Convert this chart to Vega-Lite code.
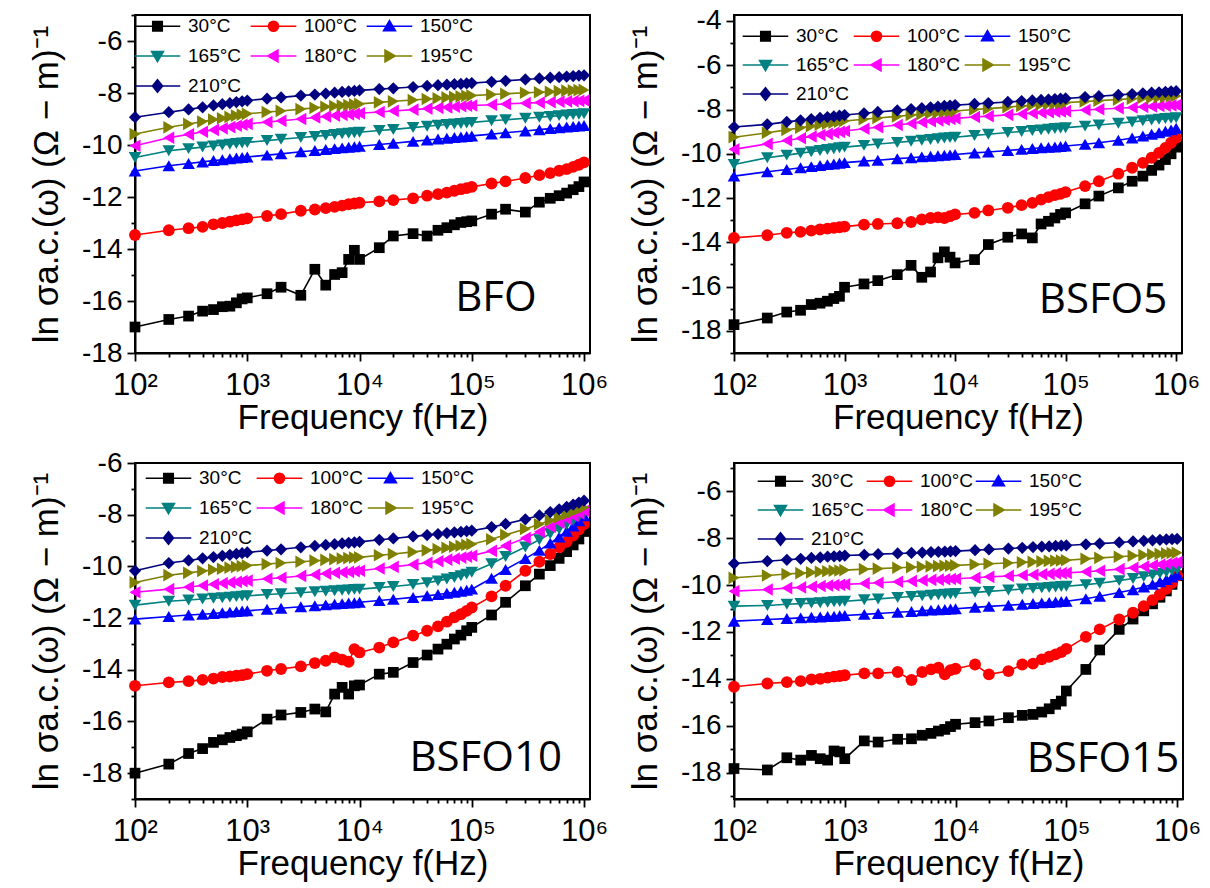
{
"$schema":"https://vega.github.io/schema/vega-lite/v6.json",
"background":"white",
"padding":{"left":28,"top":0,"right":5,"bottom":5},
"bounds":"flush",
"columns":2,
"spacing":{"row":110,"column":144},
"resolve":{"scale":{"x":"independent","y":"independent","color":"independent","shape":"independent"},"axis":{"x":"independent","y":"independent"},"legend":{"color":"independent","shape":"independent"}},
"config":{
"font":"Liberation Sans",
"view":{"stroke":"black","strokeWidth":2},
"axis":{"domainColor":"black","domainWidth":2,"tickColor":"black","tickWidth":1.8,"labelColor":"black","titleColor":"black","labelFont":"Liberation Sans","titleFont":"Liberation Sans","titleFontSize":35,"titleFontWeight":"normal","grid":false,"labelFlush":false,"labelOverlap":false,"labelBound":false},
"legend":{"symbolStrokeWidth":1.5,"symbolOpacity":1,"symbolSize":144,"labelOffset":21,"padding":0,"labelFont":"Liberation Sans","labelFontSize":19,"labelColor":"black"}
},
"datasets":{
"bfo":[
{"t":30,"f":100,"v":-17},{"t":30,"f":200,"v":-16.71},{"t":30,"f":300,"v":-16.58},{"t":30,"f":400,"v":-16.39},{"t":30,"f":500,"v":-16.33},{"t":30,"f":600,"v":-16.22},{"t":30,"f":700,"v":-16.2},{"t":30,"f":800,"v":-16.07},{"t":30,"f":900,"v":-15.92},{"t":30,"f":1000,"v":-15.88},{"t":30,"f":1500,"v":-15.72},{"t":30,"f":2000,"v":-15.47},{"t":30,"f":3000,"v":-15.78},{"t":30,"f":4000,"v":-14.78},{"t":30,"f":5000,"v":-15.39},{"t":30,"f":6000,"v":-14.98},{"t":30,"f":7000,"v":-14.91},{"t":30,"f":8000,"v":-14.4},{"t":30,"f":9000,"v":-14.05},{"t":30,"f":10000,"v":-14.4},{"t":30,"f":15000,"v":-13.95},{"t":30,"f":20000,"v":-13.5},{"t":30,"f":30000,"v":-13.41},{"t":30,"f":40000,"v":-13.5},{"t":30,"f":50000,"v":-13.28},{"t":30,"f":60000,"v":-13.18},{"t":30,"f":70000,"v":-13.07},{"t":30,"f":80000,"v":-12.98},{"t":30,"f":90000,"v":-12.95},{"t":30,"f":100000,"v":-12.92},{"t":30,"f":150000,"v":-12.66},{"t":30,"f":200000,"v":-12.47},{"t":30,"f":300000,"v":-12.58},{"t":30,"f":400000,"v":-12.2},{"t":30,"f":500000,"v":-12.05},{"t":30,"f":600000,"v":-11.95},{"t":30,"f":700000,"v":-11.85},{"t":30,"f":800000,"v":-11.72},{"t":30,"f":900000,"v":-11.6},{"t":30,"f":1000000,"v":-11.42},
{"t":100,"f":100,"v":-13.46},{"t":100,"f":200,"v":-13.28},{"t":100,"f":300,"v":-13.2},{"t":100,"f":400,"v":-13.15},{"t":100,"f":500,"v":-13.05},{"t":100,"f":600,"v":-13},{"t":100,"f":700,"v":-12.95},{"t":100,"f":800,"v":-12.9},{"t":100,"f":900,"v":-12.86},{"t":100,"f":1000,"v":-12.82},{"t":100,"f":1500,"v":-12.73},{"t":100,"f":2000,"v":-12.66},{"t":100,"f":3000,"v":-12.53},{"t":100,"f":4000,"v":-12.48},{"t":100,"f":5000,"v":-12.43},{"t":100,"f":6000,"v":-12.38},{"t":100,"f":7000,"v":-12.33},{"t":100,"f":8000,"v":-12.28},{"t":100,"f":9000,"v":-12.25},{"t":100,"f":10000,"v":-12.22},{"t":100,"f":15000,"v":-12.17},{"t":100,"f":20000,"v":-12.12},{"t":100,"f":30000,"v":-12.05},{"t":100,"f":40000,"v":-11.95},{"t":100,"f":50000,"v":-11.89},{"t":100,"f":60000,"v":-11.83},{"t":100,"f":70000,"v":-11.76},{"t":100,"f":80000,"v":-11.7},{"t":100,"f":90000,"v":-11.66},{"t":100,"f":100000,"v":-11.61},{"t":100,"f":150000,"v":-11.48},{"t":100,"f":200000,"v":-11.4},{"t":100,"f":300000,"v":-11.27},{"t":100,"f":400000,"v":-11.16},{"t":100,"f":500000,"v":-11.08},{"t":100,"f":600000,"v":-10.99},{"t":100,"f":700000,"v":-10.93},{"t":100,"f":800000,"v":-10.84},{"t":100,"f":900000,"v":-10.76},{"t":100,"f":1000000,"v":-10.67},
{"t":150,"f":100,"v":-11},{"t":150,"f":200,"v":-10.8},{"t":150,"f":300,"v":-10.71},{"t":150,"f":400,"v":-10.65},{"t":150,"f":500,"v":-10.6},{"t":150,"f":600,"v":-10.57},{"t":150,"f":700,"v":-10.53},{"t":150,"f":800,"v":-10.5},{"t":150,"f":900,"v":-10.48},{"t":150,"f":1000,"v":-10.46},{"t":150,"f":1500,"v":-10.39},{"t":150,"f":2000,"v":-10.34},{"t":150,"f":3000,"v":-10.26},{"t":150,"f":4000,"v":-10.21},{"t":150,"f":5000,"v":-10.17},{"t":150,"f":6000,"v":-10.14},{"t":150,"f":7000,"v":-10.11},{"t":150,"f":8000,"v":-10.09},{"t":150,"f":9000,"v":-10.07},{"t":150,"f":10000,"v":-10.05},{"t":150,"f":15000,"v":-9.98},{"t":150,"f":20000,"v":-9.93},{"t":150,"f":30000,"v":-9.86},{"t":150,"f":40000,"v":-9.81},{"t":150,"f":50000,"v":-9.77},{"t":150,"f":60000,"v":-9.74},{"t":150,"f":70000,"v":-9.71},{"t":150,"f":80000,"v":-9.69},{"t":150,"f":90000,"v":-9.67},{"t":150,"f":100000,"v":-9.65},{"t":150,"f":150000,"v":-9.58},{"t":150,"f":200000,"v":-9.53},{"t":150,"f":300000,"v":-9.46},{"t":150,"f":400000,"v":-9.41},{"t":150,"f":500000,"v":-9.37},{"t":150,"f":600000,"v":-9.34},{"t":150,"f":700000,"v":-9.31},{"t":150,"f":800000,"v":-9.29},{"t":150,"f":900000,"v":-9.27},{"t":150,"f":1000000,"v":-9.25},
{"t":165,"f":100,"v":-10.48},{"t":165,"f":200,"v":-10.22},{"t":165,"f":300,"v":-10.14},{"t":165,"f":400,"v":-10.08},{"t":165,"f":500,"v":-10.04},{"t":165,"f":600,"v":-10},{"t":165,"f":700,"v":-9.97},{"t":165,"f":800,"v":-9.94},{"t":165,"f":900,"v":-9.92},{"t":165,"f":1000,"v":-9.9},{"t":165,"f":1500,"v":-9.83},{"t":165,"f":2000,"v":-9.78},{"t":165,"f":3000,"v":-9.71},{"t":165,"f":4000,"v":-9.67},{"t":165,"f":5000,"v":-9.63},{"t":165,"f":6000,"v":-9.6},{"t":165,"f":7000,"v":-9.57},{"t":165,"f":8000,"v":-9.55},{"t":165,"f":9000,"v":-9.53},{"t":165,"f":10000,"v":-9.51},{"t":165,"f":15000,"v":-9.44},{"t":165,"f":20000,"v":-9.4},{"t":165,"f":30000,"v":-9.33},{"t":165,"f":40000,"v":-9.28},{"t":165,"f":50000,"v":-9.24},{"t":165,"f":60000,"v":-9.21},{"t":165,"f":70000,"v":-9.19},{"t":165,"f":80000,"v":-9.17},{"t":165,"f":90000,"v":-9.15},{"t":165,"f":100000,"v":-9.13},{"t":165,"f":150000,"v":-9.07},{"t":165,"f":200000,"v":-9.03},{"t":165,"f":300000,"v":-8.97},{"t":165,"f":400000,"v":-8.93},{"t":165,"f":500000,"v":-8.9},{"t":165,"f":600000,"v":-8.87},{"t":165,"f":700000,"v":-8.85},{"t":165,"f":800000,"v":-8.83},{"t":165,"f":900000,"v":-8.82},{"t":165,"f":1000000,"v":-8.8},
{"t":180,"f":100,"v":-10.03},{"t":180,"f":200,"v":-9.72},{"t":180,"f":300,"v":-9.59},{"t":180,"f":400,"v":-9.49},{"t":180,"f":500,"v":-9.42},{"t":180,"f":600,"v":-9.36},{"t":180,"f":700,"v":-9.31},{"t":180,"f":800,"v":-9.26},{"t":180,"f":900,"v":-9.22},{"t":180,"f":1000,"v":-9.19},{"t":180,"f":1500,"v":-9.12},{"t":180,"f":2000,"v":-9.07},{"t":180,"f":3000,"v":-9},{"t":180,"f":4000,"v":-8.94},{"t":180,"f":5000,"v":-8.9},{"t":180,"f":6000,"v":-8.87},{"t":180,"f":7000,"v":-8.84},{"t":180,"f":8000,"v":-8.82},{"t":180,"f":9000,"v":-8.8},{"t":180,"f":10000,"v":-8.78},{"t":180,"f":15000,"v":-8.73},{"t":180,"f":20000,"v":-8.69},{"t":180,"f":30000,"v":-8.64},{"t":180,"f":40000,"v":-8.6},{"t":180,"f":50000,"v":-8.57},{"t":180,"f":60000,"v":-8.55},{"t":180,"f":70000,"v":-8.53},{"t":180,"f":80000,"v":-8.51},{"t":180,"f":90000,"v":-8.49},{"t":180,"f":100000,"v":-8.48},{"t":180,"f":150000,"v":-8.45},{"t":180,"f":200000,"v":-8.42},{"t":180,"f":300000,"v":-8.39},{"t":180,"f":400000,"v":-8.37},{"t":180,"f":500000,"v":-8.35},{"t":180,"f":600000,"v":-8.33},{"t":180,"f":700000,"v":-8.32},{"t":180,"f":800000,"v":-8.31},{"t":180,"f":900000,"v":-8.3},{"t":180,"f":1000000,"v":-8.29},
{"t":195,"f":100,"v":-9.58},{"t":195,"f":200,"v":-9.32},{"t":195,"f":300,"v":-9.19},{"t":195,"f":400,"v":-9.1},{"t":195,"f":500,"v":-9.02},{"t":195,"f":600,"v":-8.97},{"t":195,"f":700,"v":-8.92},{"t":195,"f":800,"v":-8.87},{"t":195,"f":900,"v":-8.83},{"t":195,"f":1000,"v":-8.8},{"t":195,"f":1500,"v":-8.73},{"t":195,"f":2000,"v":-8.69},{"t":195,"f":3000,"v":-8.62},{"t":195,"f":4000,"v":-8.57},{"t":195,"f":5000,"v":-8.53},{"t":195,"f":6000,"v":-8.5},{"t":195,"f":7000,"v":-8.48},{"t":195,"f":8000,"v":-8.46},{"t":195,"f":9000,"v":-8.44},{"t":195,"f":10000,"v":-8.42},{"t":195,"f":15000,"v":-8.36},{"t":195,"f":20000,"v":-8.32},{"t":195,"f":30000,"v":-8.27},{"t":195,"f":40000,"v":-8.23},{"t":195,"f":50000,"v":-8.2},{"t":195,"f":60000,"v":-8.17},{"t":195,"f":70000,"v":-8.15},{"t":195,"f":80000,"v":-8.13},{"t":195,"f":90000,"v":-8.11},{"t":195,"f":100000,"v":-8.1},{"t":195,"f":150000,"v":-8.06},{"t":195,"f":200000,"v":-8.03},{"t":195,"f":300000,"v":-7.99},{"t":195,"f":400000,"v":-7.97},{"t":195,"f":500000,"v":-7.95},{"t":195,"f":600000,"v":-7.93},{"t":195,"f":700000,"v":-7.91},{"t":195,"f":800000,"v":-7.9},{"t":195,"f":900000,"v":-7.89},{"t":195,"f":1000000,"v":-7.88},
{"t":210,"f":100,"v":-8.93},{"t":210,"f":200,"v":-8.74},{"t":210,"f":300,"v":-8.63},{"t":210,"f":400,"v":-8.55},{"t":210,"f":500,"v":-8.48},{"t":210,"f":600,"v":-8.43},{"t":210,"f":700,"v":-8.39},{"t":210,"f":800,"v":-8.35},{"t":210,"f":900,"v":-8.32},{"t":210,"f":1000,"v":-8.29},{"t":210,"f":1500,"v":-8.22},{"t":210,"f":2000,"v":-8.17},{"t":210,"f":3000,"v":-8.1},{"t":210,"f":4000,"v":-8.06},{"t":210,"f":5000,"v":-8.02},{"t":210,"f":6000,"v":-7.99},{"t":210,"f":7000,"v":-7.96},{"t":210,"f":8000,"v":-7.94},{"t":210,"f":9000,"v":-7.92},{"t":210,"f":10000,"v":-7.9},{"t":210,"f":15000,"v":-7.85},{"t":210,"f":20000,"v":-7.82},{"t":210,"f":30000,"v":-7.77},{"t":210,"f":40000,"v":-7.73},{"t":210,"f":50000,"v":-7.7},{"t":210,"f":60000,"v":-7.68},{"t":210,"f":70000,"v":-7.66},{"t":210,"f":80000,"v":-7.65},{"t":210,"f":90000,"v":-7.63},{"t":210,"f":100000,"v":-7.62},{"t":210,"f":150000,"v":-7.57},{"t":210,"f":200000,"v":-7.53},{"t":210,"f":300000,"v":-7.48},{"t":210,"f":400000,"v":-7.44},{"t":210,"f":500000,"v":-7.41},{"t":210,"f":600000,"v":-7.39},{"t":210,"f":700000,"v":-7.37},{"t":210,"f":800000,"v":-7.35},{"t":210,"f":900000,"v":-7.33},{"t":210,"f":1000000,"v":-7.32}
],
"b5":[
{"t":30,"f":100,"v":-17.72},{"t":30,"f":200,"v":-17.42},{"t":30,"f":300,"v":-17.15},{"t":30,"f":400,"v":-17.07},{"t":30,"f":500,"v":-16.81},{"t":30,"f":600,"v":-16.75},{"t":30,"f":700,"v":-16.66},{"t":30,"f":800,"v":-16.54},{"t":30,"f":900,"v":-16.44},{"t":30,"f":1000,"v":-16.03},{"t":30,"f":1500,"v":-15.88},{"t":30,"f":2000,"v":-15.73},{"t":30,"f":3000,"v":-15.46},{"t":30,"f":4000,"v":-15.04},{"t":30,"f":5000,"v":-15.58},{"t":30,"f":6000,"v":-15.34},{"t":30,"f":7000,"v":-14.7},{"t":30,"f":8000,"v":-14.43},{"t":30,"f":9000,"v":-14.67},{"t":30,"f":10000,"v":-14.93},{"t":30,"f":15000,"v":-14.78},{"t":30,"f":20000,"v":-14.1},{"t":30,"f":30000,"v":-13.77},{"t":30,"f":40000,"v":-13.62},{"t":30,"f":50000,"v":-13.8},{"t":30,"f":60000,"v":-13.17},{"t":30,"f":70000,"v":-13.05},{"t":30,"f":80000,"v":-12.9},{"t":30,"f":90000,"v":-12.74},{"t":30,"f":100000,"v":-12.67},{"t":30,"f":150000,"v":-12.26},{"t":30,"f":200000,"v":-11.91},{"t":30,"f":300000,"v":-11.54},{"t":30,"f":400000,"v":-11.24},{"t":30,"f":500000,"v":-11.01},{"t":30,"f":600000,"v":-10.75},{"t":30,"f":700000,"v":-10.51},{"t":30,"f":800000,"v":-10.26},{"t":30,"f":900000,"v":-10},{"t":30,"f":1000000,"v":-9.7},
{"t":100,"f":100,"v":-13.8},{"t":100,"f":200,"v":-13.68},{"t":100,"f":300,"v":-13.57},{"t":100,"f":400,"v":-13.53},{"t":100,"f":500,"v":-13.47},{"t":100,"f":600,"v":-13.42},{"t":100,"f":700,"v":-13.38},{"t":100,"f":800,"v":-13.35},{"t":100,"f":900,"v":-13.32},{"t":100,"f":1000,"v":-13.29},{"t":100,"f":1500,"v":-13.2},{"t":100,"f":2000,"v":-13.17},{"t":100,"f":3000,"v":-13.14},{"t":100,"f":4000,"v":-13.08},{"t":100,"f":5000,"v":-12.97},{"t":100,"f":6000,"v":-12.9},{"t":100,"f":7000,"v":-12.87},{"t":100,"f":8000,"v":-12.9},{"t":100,"f":9000,"v":-12.82},{"t":100,"f":10000,"v":-12.74},{"t":100,"f":15000,"v":-12.67},{"t":100,"f":20000,"v":-12.56},{"t":100,"f":30000,"v":-12.44},{"t":100,"f":40000,"v":-12.32},{"t":100,"f":50000,"v":-12.22},{"t":100,"f":60000,"v":-12.07},{"t":100,"f":70000,"v":-11.96},{"t":100,"f":80000,"v":-11.87},{"t":100,"f":90000,"v":-11.81},{"t":100,"f":100000,"v":-11.73},{"t":100,"f":150000,"v":-11.46},{"t":100,"f":200000,"v":-11.24},{"t":100,"f":300000,"v":-10.9},{"t":100,"f":400000,"v":-10.63},{"t":100,"f":500000,"v":-10.41},{"t":100,"f":600000,"v":-10.18},{"t":100,"f":700000,"v":-9.96},{"t":100,"f":800000,"v":-9.73},{"t":100,"f":900000,"v":-9.5},{"t":100,"f":1000000,"v":-9.28},
{"t":150,"f":100,"v":-11.01},{"t":150,"f":200,"v":-10.81},{"t":150,"f":300,"v":-10.71},{"t":150,"f":400,"v":-10.63},{"t":150,"f":500,"v":-10.58},{"t":150,"f":600,"v":-10.53},{"t":150,"f":700,"v":-10.49},{"t":150,"f":800,"v":-10.46},{"t":150,"f":900,"v":-10.43},{"t":150,"f":1000,"v":-10.4},{"t":150,"f":1500,"v":-10.33},{"t":150,"f":2000,"v":-10.29},{"t":150,"f":3000,"v":-10.22},{"t":150,"f":4000,"v":-10.18},{"t":150,"f":5000,"v":-10.14},{"t":150,"f":6000,"v":-10.11},{"t":150,"f":7000,"v":-10.09},{"t":150,"f":8000,"v":-10.07},{"t":150,"f":9000,"v":-10.05},{"t":150,"f":10000,"v":-10.03},{"t":150,"f":15000,"v":-9.96},{"t":150,"f":20000,"v":-9.92},{"t":150,"f":30000,"v":-9.85},{"t":150,"f":40000,"v":-9.8},{"t":150,"f":50000,"v":-9.76},{"t":150,"f":60000,"v":-9.73},{"t":150,"f":70000,"v":-9.71},{"t":150,"f":80000,"v":-9.69},{"t":150,"f":90000,"v":-9.67},{"t":150,"f":100000,"v":-9.65},{"t":150,"f":150000,"v":-9.57},{"t":150,"f":200000,"v":-9.5},{"t":150,"f":300000,"v":-9.39},{"t":150,"f":400000,"v":-9.29},{"t":150,"f":500000,"v":-9.2},{"t":150,"f":600000,"v":-9.12},{"t":150,"f":700000,"v":-9.05},{"t":150,"f":800000,"v":-8.98},{"t":150,"f":900000,"v":-8.92},{"t":150,"f":1000000,"v":-8.85},
{"t":165,"f":100,"v":-10.48},{"t":165,"f":200,"v":-10.18},{"t":165,"f":300,"v":-10.06},{"t":165,"f":400,"v":-9.97},{"t":165,"f":500,"v":-9.91},{"t":165,"f":600,"v":-9.85},{"t":165,"f":700,"v":-9.81},{"t":165,"f":800,"v":-9.77},{"t":165,"f":900,"v":-9.73},{"t":165,"f":1000,"v":-9.7},{"t":165,"f":1500,"v":-9.62},{"t":165,"f":2000,"v":-9.56},{"t":165,"f":3000,"v":-9.49},{"t":165,"f":4000,"v":-9.43},{"t":165,"f":5000,"v":-9.39},{"t":165,"f":6000,"v":-9.35},{"t":165,"f":7000,"v":-9.32},{"t":165,"f":8000,"v":-9.29},{"t":165,"f":9000,"v":-9.27},{"t":165,"f":10000,"v":-9.25},{"t":165,"f":15000,"v":-9.17},{"t":165,"f":20000,"v":-9.12},{"t":165,"f":30000,"v":-9.04},{"t":165,"f":40000,"v":-8.99},{"t":165,"f":50000,"v":-8.95},{"t":165,"f":60000,"v":-8.92},{"t":165,"f":70000,"v":-8.89},{"t":165,"f":80000,"v":-8.86},{"t":165,"f":90000,"v":-8.84},{"t":165,"f":100000,"v":-8.82},{"t":165,"f":150000,"v":-8.75},{"t":165,"f":200000,"v":-8.7},{"t":165,"f":300000,"v":-8.62},{"t":165,"f":400000,"v":-8.56},{"t":165,"f":500000,"v":-8.51},{"t":165,"f":600000,"v":-8.47},{"t":165,"f":700000,"v":-8.44},{"t":165,"f":800000,"v":-8.41},{"t":165,"f":900000,"v":-8.39},{"t":165,"f":1000000,"v":-8.37},
{"t":180,"f":100,"v":-9.8},{"t":180,"f":200,"v":-9.55},{"t":180,"f":300,"v":-9.4},{"t":180,"f":400,"v":-9.3},{"t":180,"f":500,"v":-9.22},{"t":180,"f":600,"v":-9.15},{"t":180,"f":700,"v":-9.1},{"t":180,"f":800,"v":-9.05},{"t":180,"f":900,"v":-9.01},{"t":180,"f":1000,"v":-8.97},{"t":180,"f":1500,"v":-8.87},{"t":180,"f":2000,"v":-8.8},{"t":180,"f":3000,"v":-8.7},{"t":180,"f":4000,"v":-8.63},{"t":180,"f":5000,"v":-8.57},{"t":180,"f":6000,"v":-8.53},{"t":180,"f":7000,"v":-8.49},{"t":180,"f":8000,"v":-8.46},{"t":180,"f":9000,"v":-8.43},{"t":180,"f":10000,"v":-8.4},{"t":180,"f":15000,"v":-8.34},{"t":180,"f":20000,"v":-8.3},{"t":180,"f":30000,"v":-8.24},{"t":180,"f":40000,"v":-8.2},{"t":180,"f":50000,"v":-8.17},{"t":180,"f":60000,"v":-8.14},{"t":180,"f":70000,"v":-8.12},{"t":180,"f":80000,"v":-8.1},{"t":180,"f":90000,"v":-8.09},{"t":180,"f":100000,"v":-8.07},{"t":180,"f":150000,"v":-8.02},{"t":180,"f":200000,"v":-7.99},{"t":180,"f":300000,"v":-7.94},{"t":180,"f":400000,"v":-7.91},{"t":180,"f":500000,"v":-7.88},{"t":180,"f":600000,"v":-7.86},{"t":180,"f":700000,"v":-7.84},{"t":180,"f":800000,"v":-7.83},{"t":180,"f":900000,"v":-7.81},{"t":180,"f":1000000,"v":-7.8},
{"t":195,"f":100,"v":-9.25},{"t":195,"f":200,"v":-9.05},{"t":195,"f":300,"v":-8.92},{"t":195,"f":400,"v":-8.82},{"t":195,"f":500,"v":-8.75},{"t":195,"f":600,"v":-8.69},{"t":195,"f":700,"v":-8.64},{"t":195,"f":800,"v":-8.59},{"t":195,"f":900,"v":-8.55},{"t":195,"f":1000,"v":-8.52},{"t":195,"f":1500,"v":-8.44},{"t":195,"f":2000,"v":-8.38},{"t":195,"f":3000,"v":-8.31},{"t":195,"f":4000,"v":-8.25},{"t":195,"f":5000,"v":-8.21},{"t":195,"f":6000,"v":-8.17},{"t":195,"f":7000,"v":-8.14},{"t":195,"f":8000,"v":-8.11},{"t":195,"f":9000,"v":-8.09},{"t":195,"f":10000,"v":-8.07},{"t":195,"f":15000,"v":-8},{"t":195,"f":20000,"v":-7.96},{"t":195,"f":30000,"v":-7.89},{"t":195,"f":40000,"v":-7.84},{"t":195,"f":50000,"v":-7.8},{"t":195,"f":60000,"v":-7.77},{"t":195,"f":70000,"v":-7.75},{"t":195,"f":80000,"v":-7.73},{"t":195,"f":90000,"v":-7.71},{"t":195,"f":100000,"v":-7.69},{"t":195,"f":150000,"v":-7.64},{"t":195,"f":200000,"v":-7.6},{"t":195,"f":300000,"v":-7.55},{"t":195,"f":400000,"v":-7.51},{"t":195,"f":500000,"v":-7.48},{"t":195,"f":600000,"v":-7.46},{"t":195,"f":700000,"v":-7.44},{"t":195,"f":800000,"v":-7.42},{"t":195,"f":900000,"v":-7.4},{"t":195,"f":1000000,"v":-7.39},
{"t":210,"f":100,"v":-8.79},{"t":210,"f":200,"v":-8.67},{"t":210,"f":300,"v":-8.56},{"t":210,"f":400,"v":-8.49},{"t":210,"f":500,"v":-8.43},{"t":210,"f":600,"v":-8.38},{"t":210,"f":700,"v":-8.34},{"t":210,"f":800,"v":-8.31},{"t":210,"f":900,"v":-8.28},{"t":210,"f":1000,"v":-8.25},{"t":210,"f":1500,"v":-8.17},{"t":210,"f":2000,"v":-8.11},{"t":210,"f":3000,"v":-8.04},{"t":210,"f":4000,"v":-7.98},{"t":210,"f":5000,"v":-7.94},{"t":210,"f":6000,"v":-7.9},{"t":210,"f":7000,"v":-7.87},{"t":210,"f":8000,"v":-7.84},{"t":210,"f":9000,"v":-7.82},{"t":210,"f":10000,"v":-7.8},{"t":210,"f":15000,"v":-7.75},{"t":210,"f":20000,"v":-7.71},{"t":210,"f":30000,"v":-7.66},{"t":210,"f":40000,"v":-7.62},{"t":210,"f":50000,"v":-7.59},{"t":210,"f":60000,"v":-7.57},{"t":210,"f":70000,"v":-7.55},{"t":210,"f":80000,"v":-7.53},{"t":210,"f":90000,"v":-7.51},{"t":210,"f":100000,"v":-7.5},{"t":210,"f":150000,"v":-7.44},{"t":210,"f":200000,"v":-7.4},{"t":210,"f":300000,"v":-7.34},{"t":210,"f":400000,"v":-7.3},{"t":210,"f":500000,"v":-7.27},{"t":210,"f":600000,"v":-7.24},{"t":210,"f":700000,"v":-7.22},{"t":210,"f":800000,"v":-7.2},{"t":210,"f":900000,"v":-7.18},{"t":210,"f":1000000,"v":-7.17}
],
"b10":[
{"t":30,"f":100,"v":-18},{"t":30,"f":200,"v":-17.65},{"t":30,"f":300,"v":-17.24},{"t":30,"f":400,"v":-17.05},{"t":30,"f":500,"v":-16.81},{"t":30,"f":600,"v":-16.71},{"t":30,"f":700,"v":-16.62},{"t":30,"f":800,"v":-16.55},{"t":30,"f":900,"v":-16.49},{"t":30,"f":1000,"v":-16.4},{"t":30,"f":1500,"v":-15.91},{"t":30,"f":2000,"v":-15.75},{"t":30,"f":3000,"v":-15.65},{"t":30,"f":4000,"v":-15.52},{"t":30,"f":5000,"v":-15.63},{"t":30,"f":6000,"v":-14.94},{"t":30,"f":7000,"v":-14.68},{"t":30,"f":8000,"v":-14.94},{"t":30,"f":9000,"v":-14.62},{"t":30,"f":10000,"v":-14.59},{"t":30,"f":15000,"v":-14.17},{"t":30,"f":20000,"v":-14.1},{"t":30,"f":30000,"v":-13.72},{"t":30,"f":40000,"v":-13.43},{"t":30,"f":50000,"v":-13.2},{"t":30,"f":60000,"v":-13.01},{"t":30,"f":70000,"v":-12.81},{"t":30,"f":80000,"v":-12.66},{"t":30,"f":90000,"v":-12.49},{"t":30,"f":100000,"v":-12.36},{"t":30,"f":150000,"v":-11.88},{"t":30,"f":200000,"v":-11.39},{"t":30,"f":300000,"v":-10.75},{"t":30,"f":400000,"v":-10.3},{"t":30,"f":500000,"v":-9.97},{"t":30,"f":600000,"v":-9.69},{"t":30,"f":700000,"v":-9.43},{"t":30,"f":800000,"v":-9.17},{"t":30,"f":900000,"v":-8.94},{"t":30,"f":1000000,"v":-8.65},
{"t":100,"f":100,"v":-14.62},{"t":100,"f":200,"v":-14.49},{"t":100,"f":300,"v":-14.44},{"t":100,"f":400,"v":-14.39},{"t":100,"f":500,"v":-14.34},{"t":100,"f":600,"v":-14.28},{"t":100,"f":700,"v":-14.26},{"t":100,"f":800,"v":-14.23},{"t":100,"f":900,"v":-14.21},{"t":100,"f":1000,"v":-14.17},{"t":100,"f":1500,"v":-14.04},{"t":100,"f":2000,"v":-13.97},{"t":100,"f":3000,"v":-13.87},{"t":100,"f":4000,"v":-13.74},{"t":100,"f":5000,"v":-13.65},{"t":100,"f":6000,"v":-13.52},{"t":100,"f":7000,"v":-13.61},{"t":100,"f":8000,"v":-13.69},{"t":100,"f":9000,"v":-13.2},{"t":100,"f":10000,"v":-13.33},{"t":100,"f":15000,"v":-13.14},{"t":100,"f":20000,"v":-12.94},{"t":100,"f":30000,"v":-12.68},{"t":100,"f":40000,"v":-12.49},{"t":100,"f":50000,"v":-12.32},{"t":100,"f":60000,"v":-12.14},{"t":100,"f":70000,"v":-11.97},{"t":100,"f":80000,"v":-11.85},{"t":100,"f":90000,"v":-11.72},{"t":100,"f":100000,"v":-11.59},{"t":100,"f":150000,"v":-11.16},{"t":100,"f":200000,"v":-10.75},{"t":100,"f":300000,"v":-10.17},{"t":100,"f":400000,"v":-9.82},{"t":100,"f":500000,"v":-9.52},{"t":100,"f":600000,"v":-9.26},{"t":100,"f":700000,"v":-9.05},{"t":100,"f":800000,"v":-8.81},{"t":100,"f":900000,"v":-8.58},{"t":100,"f":1000000,"v":-8.36},
{"t":150,"f":100,"v":-12.04},{"t":150,"f":200,"v":-11.94},{"t":150,"f":300,"v":-11.88},{"t":150,"f":400,"v":-11.85},{"t":150,"f":500,"v":-11.82},{"t":150,"f":600,"v":-11.79},{"t":150,"f":700,"v":-11.77},{"t":150,"f":800,"v":-11.75},{"t":150,"f":900,"v":-11.73},{"t":150,"f":1000,"v":-11.72},{"t":150,"f":1500,"v":-11.66},{"t":150,"f":2000,"v":-11.62},{"t":150,"f":3000,"v":-11.56},{"t":150,"f":4000,"v":-11.52},{"t":150,"f":5000,"v":-11.49},{"t":150,"f":6000,"v":-11.46},{"t":150,"f":7000,"v":-11.44},{"t":150,"f":8000,"v":-11.42},{"t":150,"f":9000,"v":-11.41},{"t":150,"f":10000,"v":-11.39},{"t":150,"f":15000,"v":-11.32},{"t":150,"f":20000,"v":-11.27},{"t":150,"f":30000,"v":-11.2},{"t":150,"f":40000,"v":-11.14},{"t":150,"f":50000,"v":-11.09},{"t":150,"f":60000,"v":-11.04},{"t":150,"f":70000,"v":-11},{"t":150,"f":80000,"v":-10.96},{"t":150,"f":90000,"v":-10.92},{"t":150,"f":100000,"v":-10.88},{"t":150,"f":150000,"v":-10.46},{"t":150,"f":200000,"v":-10.12},{"t":150,"f":300000,"v":-9.7},{"t":150,"f":400000,"v":-9.38},{"t":150,"f":500000,"v":-9.1},{"t":150,"f":600000,"v":-8.86},{"t":150,"f":700000,"v":-8.64},{"t":150,"f":800000,"v":-8.44},{"t":150,"f":900000,"v":-8.24},{"t":150,"f":1000000,"v":-8.04},
{"t":165,"f":100,"v":-11.5},{"t":165,"f":200,"v":-11.35},{"t":165,"f":300,"v":-11.3},{"t":165,"f":400,"v":-11.26},{"t":165,"f":500,"v":-11.23},{"t":165,"f":600,"v":-11.21},{"t":165,"f":700,"v":-11.19},{"t":165,"f":800,"v":-11.17},{"t":165,"f":900,"v":-11.15},{"t":165,"f":1000,"v":-11.14},{"t":165,"f":1500,"v":-11.09},{"t":165,"f":2000,"v":-11.06},{"t":165,"f":3000,"v":-11.02},{"t":165,"f":4000,"v":-10.98},{"t":165,"f":5000,"v":-10.96},{"t":165,"f":6000,"v":-10.94},{"t":165,"f":7000,"v":-10.92},{"t":165,"f":8000,"v":-10.91},{"t":165,"f":9000,"v":-10.89},{"t":165,"f":10000,"v":-10.88},{"t":165,"f":15000,"v":-10.82},{"t":165,"f":20000,"v":-10.78},{"t":165,"f":30000,"v":-10.7},{"t":165,"f":40000,"v":-10.63},{"t":165,"f":50000,"v":-10.56},{"t":165,"f":60000,"v":-10.49},{"t":165,"f":70000,"v":-10.43},{"t":165,"f":80000,"v":-10.36},{"t":165,"f":90000,"v":-10.3},{"t":165,"f":100000,"v":-10.23},{"t":165,"f":150000,"v":-9.9},{"t":165,"f":200000,"v":-9.62},{"t":165,"f":300000,"v":-9.25},{"t":165,"f":400000,"v":-8.97},{"t":165,"f":500000,"v":-8.74},{"t":165,"f":600000,"v":-8.55},{"t":165,"f":700000,"v":-8.38},{"t":165,"f":800000,"v":-8.23},{"t":165,"f":900000,"v":-8.08},{"t":165,"f":1000000,"v":-7.94},
{"t":180,"f":100,"v":-11},{"t":180,"f":200,"v":-10.88},{"t":180,"f":300,"v":-10.8},{"t":180,"f":400,"v":-10.74},{"t":180,"f":500,"v":-10.69},{"t":180,"f":600,"v":-10.65},{"t":180,"f":700,"v":-10.62},{"t":180,"f":800,"v":-10.6},{"t":180,"f":900,"v":-10.57},{"t":180,"f":1000,"v":-10.55},{"t":180,"f":1500,"v":-10.48},{"t":180,"f":2000,"v":-10.44},{"t":180,"f":3000,"v":-10.37},{"t":180,"f":4000,"v":-10.32},{"t":180,"f":5000,"v":-10.28},{"t":180,"f":6000,"v":-10.25},{"t":180,"f":7000,"v":-10.23},{"t":180,"f":8000,"v":-10.21},{"t":180,"f":9000,"v":-10.19},{"t":180,"f":10000,"v":-10.17},{"t":180,"f":15000,"v":-10.08},{"t":180,"f":20000,"v":-10.02},{"t":180,"f":30000,"v":-9.93},{"t":180,"f":40000,"v":-9.86},{"t":180,"f":50000,"v":-9.8},{"t":180,"f":60000,"v":-9.74},{"t":180,"f":70000,"v":-9.7},{"t":180,"f":80000,"v":-9.66},{"t":180,"f":90000,"v":-9.62},{"t":180,"f":100000,"v":-9.59},{"t":180,"f":150000,"v":-9.4},{"t":180,"f":200000,"v":-9.2},{"t":180,"f":300000,"v":-8.9},{"t":180,"f":400000,"v":-8.66},{"t":180,"f":500000,"v":-8.47},{"t":180,"f":600000,"v":-8.31},{"t":180,"f":700000,"v":-8.17},{"t":180,"f":800000,"v":-8.05},{"t":180,"f":900000,"v":-7.95},{"t":180,"f":1000000,"v":-7.85},
{"t":195,"f":100,"v":-10.62},{"t":195,"f":200,"v":-10.34},{"t":195,"f":300,"v":-10.25},{"t":195,"f":400,"v":-10.18},{"t":195,"f":500,"v":-10.13},{"t":195,"f":600,"v":-10.09},{"t":195,"f":700,"v":-10.05},{"t":195,"f":800,"v":-10.02},{"t":195,"f":900,"v":-9.99},{"t":195,"f":1000,"v":-9.97},{"t":195,"f":1500,"v":-9.91},{"t":195,"f":2000,"v":-9.87},{"t":195,"f":3000,"v":-9.82},{"t":195,"f":4000,"v":-9.78},{"t":195,"f":5000,"v":-9.75},{"t":195,"f":6000,"v":-9.72},{"t":195,"f":7000,"v":-9.7},{"t":195,"f":8000,"v":-9.68},{"t":195,"f":9000,"v":-9.66},{"t":195,"f":10000,"v":-9.65},{"t":195,"f":15000,"v":-9.57},{"t":195,"f":20000,"v":-9.52},{"t":195,"f":30000,"v":-9.44},{"t":195,"f":40000,"v":-9.38},{"t":195,"f":50000,"v":-9.33},{"t":195,"f":60000,"v":-9.28},{"t":195,"f":70000,"v":-9.24},{"t":195,"f":80000,"v":-9.2},{"t":195,"f":90000,"v":-9.17},{"t":195,"f":100000,"v":-9.14},{"t":195,"f":150000,"v":-8.95},{"t":195,"f":200000,"v":-8.78},{"t":195,"f":300000,"v":-8.55},{"t":195,"f":400000,"v":-8.37},{"t":195,"f":500000,"v":-8.22},{"t":195,"f":600000,"v":-8.1},{"t":195,"f":700000,"v":-7.99},{"t":195,"f":800000,"v":-7.89},{"t":195,"f":900000,"v":-7.8},{"t":195,"f":1000000,"v":-7.72},
{"t":210,"f":100,"v":-10.17},{"t":210,"f":200,"v":-9.87},{"t":210,"f":300,"v":-9.77},{"t":210,"f":400,"v":-9.69},{"t":210,"f":500,"v":-9.64},{"t":210,"f":600,"v":-9.59},{"t":210,"f":700,"v":-9.55},{"t":210,"f":800,"v":-9.52},{"t":210,"f":900,"v":-9.49},{"t":210,"f":1000,"v":-9.46},{"t":210,"f":1500,"v":-9.39},{"t":210,"f":2000,"v":-9.34},{"t":210,"f":3000,"v":-9.26},{"t":210,"f":4000,"v":-9.21},{"t":210,"f":5000,"v":-9.17},{"t":210,"f":6000,"v":-9.14},{"t":210,"f":7000,"v":-9.11},{"t":210,"f":8000,"v":-9.09},{"t":210,"f":9000,"v":-9.07},{"t":210,"f":10000,"v":-9.05},{"t":210,"f":15000,"v":-8.97},{"t":210,"f":20000,"v":-8.92},{"t":210,"f":30000,"v":-8.84},{"t":210,"f":40000,"v":-8.79},{"t":210,"f":50000,"v":-8.75},{"t":210,"f":60000,"v":-8.71},{"t":210,"f":70000,"v":-8.68},{"t":210,"f":80000,"v":-8.66},{"t":210,"f":90000,"v":-8.64},{"t":210,"f":100000,"v":-8.62},{"t":210,"f":150000,"v":-8.48},{"t":210,"f":200000,"v":-8.36},{"t":210,"f":300000,"v":-8.18},{"t":210,"f":400000,"v":-8.03},{"t":210,"f":500000,"v":-7.9},{"t":210,"f":600000,"v":-7.79},{"t":210,"f":700000,"v":-7.7},{"t":210,"f":800000,"v":-7.61},{"t":210,"f":900000,"v":-7.53},{"t":210,"f":1000000,"v":-7.46}
],
"b15":[
{"t":30,"f":100,"v":-17.83},{"t":30,"f":200,"v":-17.89},{"t":30,"f":300,"v":-17.37},{"t":30,"f":400,"v":-17.47},{"t":30,"f":500,"v":-17.27},{"t":30,"f":600,"v":-17.41},{"t":30,"f":700,"v":-17.47},{"t":30,"f":800,"v":-17.08},{"t":30,"f":900,"v":-17.12},{"t":30,"f":1000,"v":-17.41},{"t":30,"f":1500,"v":-16.65},{"t":30,"f":2000,"v":-16.7},{"t":30,"f":3000,"v":-16.58},{"t":30,"f":4000,"v":-16.56},{"t":30,"f":5000,"v":-16.41},{"t":30,"f":6000,"v":-16.33},{"t":30,"f":7000,"v":-16.23},{"t":30,"f":8000,"v":-16.16},{"t":30,"f":9000,"v":-16.04},{"t":30,"f":10000,"v":-15.94},{"t":30,"f":15000,"v":-15.87},{"t":30,"f":20000,"v":-15.8},{"t":30,"f":30000,"v":-15.66},{"t":30,"f":40000,"v":-15.56},{"t":30,"f":50000,"v":-15.52},{"t":30,"f":60000,"v":-15.42},{"t":30,"f":70000,"v":-15.28},{"t":30,"f":80000,"v":-15.09},{"t":30,"f":90000,"v":-14.95},{"t":30,"f":100000,"v":-14.52},{"t":30,"f":150000,"v":-13.6},{"t":30,"f":200000,"v":-12.77},{"t":30,"f":300000,"v":-11.89},{"t":30,"f":400000,"v":-11.45},{"t":30,"f":500000,"v":-11.1},{"t":30,"f":600000,"v":-10.8},{"t":30,"f":700000,"v":-10.52},{"t":30,"f":800000,"v":-10.25},{"t":30,"f":900000,"v":-9.97},{"t":30,"f":1000000,"v":-9.6},
{"t":100,"f":100,"v":-14.34},{"t":100,"f":200,"v":-14.2},{"t":100,"f":300,"v":-14.14},{"t":100,"f":400,"v":-14.1},{"t":100,"f":500,"v":-14.03},{"t":100,"f":600,"v":-14},{"t":100,"f":700,"v":-13.95},{"t":100,"f":800,"v":-13.91},{"t":100,"f":900,"v":-13.88},{"t":100,"f":1000,"v":-13.85},{"t":100,"f":1500,"v":-13.77},{"t":100,"f":2000,"v":-13.77},{"t":100,"f":3000,"v":-13.71},{"t":100,"f":4000,"v":-14.05},{"t":100,"f":5000,"v":-13.71},{"t":100,"f":6000,"v":-13.6},{"t":100,"f":7000,"v":-13.53},{"t":100,"f":8000,"v":-13.81},{"t":100,"f":9000,"v":-13.63},{"t":100,"f":10000,"v":-13.57},{"t":100,"f":15000,"v":-13.39},{"t":100,"f":20000,"v":-13.81},{"t":100,"f":30000,"v":-13.67},{"t":100,"f":40000,"v":-13.39},{"t":100,"f":50000,"v":-13.35},{"t":100,"f":60000,"v":-13.17},{"t":100,"f":70000,"v":-13.06},{"t":100,"f":80000,"v":-12.96},{"t":100,"f":90000,"v":-12.86},{"t":100,"f":100000,"v":-12.72},{"t":100,"f":150000,"v":-12.21},{"t":100,"f":200000,"v":-11.89},{"t":100,"f":300000,"v":-11.47},{"t":100,"f":400000,"v":-11.18},{"t":100,"f":500000,"v":-10.9},{"t":100,"f":600000,"v":-10.64},{"t":100,"f":700000,"v":-10.4},{"t":100,"f":800000,"v":-10.16},{"t":100,"f":900000,"v":-9.9},{"t":100,"f":1000000,"v":-9.59},
{"t":150,"f":100,"v":-11.54},{"t":150,"f":200,"v":-11.47},{"t":150,"f":300,"v":-11.43},{"t":150,"f":400,"v":-11.4},{"t":150,"f":500,"v":-11.37},{"t":150,"f":600,"v":-11.36},{"t":150,"f":700,"v":-11.34},{"t":150,"f":800,"v":-11.33},{"t":150,"f":900,"v":-11.31},{"t":150,"f":1000,"v":-11.3},{"t":150,"f":1500,"v":-11.25},{"t":150,"f":2000,"v":-11.21},{"t":150,"f":3000,"v":-11.16},{"t":150,"f":4000,"v":-11.13},{"t":150,"f":5000,"v":-11.1},{"t":150,"f":6000,"v":-11.07},{"t":150,"f":7000,"v":-11.05},{"t":150,"f":8000,"v":-11.04},{"t":150,"f":9000,"v":-11.02},{"t":150,"f":10000,"v":-11.01},{"t":150,"f":15000,"v":-10.95},{"t":150,"f":20000,"v":-10.91},{"t":150,"f":30000,"v":-10.86},{"t":150,"f":40000,"v":-10.82},{"t":150,"f":50000,"v":-10.79},{"t":150,"f":60000,"v":-10.76},{"t":150,"f":70000,"v":-10.74},{"t":150,"f":80000,"v":-10.72},{"t":150,"f":90000,"v":-10.7},{"t":150,"f":100000,"v":-10.69},{"t":150,"f":150000,"v":-10.58},{"t":150,"f":200000,"v":-10.48},{"t":150,"f":300000,"v":-10.32},{"t":150,"f":400000,"v":-10.2},{"t":150,"f":500000,"v":-10.08},{"t":150,"f":600000,"v":-9.97},{"t":150,"f":700000,"v":-9.86},{"t":150,"f":800000,"v":-9.76},{"t":150,"f":900000,"v":-9.66},{"t":150,"f":1000000,"v":-9.55},
{"t":165,"f":100,"v":-10.9},{"t":165,"f":200,"v":-10.87},{"t":165,"f":300,"v":-10.82},{"t":165,"f":400,"v":-10.79},{"t":165,"f":500,"v":-10.77},{"t":165,"f":600,"v":-10.75},{"t":165,"f":700,"v":-10.73},{"t":165,"f":800,"v":-10.71},{"t":165,"f":900,"v":-10.7},{"t":165,"f":1000,"v":-10.69},{"t":165,"f":1500,"v":-10.63},{"t":165,"f":2000,"v":-10.59},{"t":165,"f":3000,"v":-10.53},{"t":165,"f":4000,"v":-10.49},{"t":165,"f":5000,"v":-10.46},{"t":165,"f":6000,"v":-10.43},{"t":165,"f":7000,"v":-10.41},{"t":165,"f":8000,"v":-10.39},{"t":165,"f":9000,"v":-10.38},{"t":165,"f":10000,"v":-10.36},{"t":165,"f":15000,"v":-10.31},{"t":165,"f":20000,"v":-10.27},{"t":165,"f":30000,"v":-10.21},{"t":165,"f":40000,"v":-10.17},{"t":165,"f":50000,"v":-10.14},{"t":165,"f":60000,"v":-10.12},{"t":165,"f":70000,"v":-10.1},{"t":165,"f":80000,"v":-10.08},{"t":165,"f":90000,"v":-10.06},{"t":165,"f":100000,"v":-10.05},{"t":165,"f":150000,"v":-9.98},{"t":165,"f":200000,"v":-9.92},{"t":165,"f":300000,"v":-9.81},{"t":165,"f":400000,"v":-9.72},{"t":165,"f":500000,"v":-9.64},{"t":165,"f":600000,"v":-9.57},{"t":165,"f":700000,"v":-9.5},{"t":165,"f":800000,"v":-9.44},{"t":165,"f":900000,"v":-9.38},{"t":165,"f":1000000,"v":-9.33},
{"t":180,"f":100,"v":-10.26},{"t":180,"f":200,"v":-10.19},{"t":180,"f":300,"v":-10.13},{"t":180,"f":400,"v":-10.1},{"t":180,"f":500,"v":-10.07},{"t":180,"f":600,"v":-10.04},{"t":180,"f":700,"v":-10.02},{"t":180,"f":800,"v":-10},{"t":180,"f":900,"v":-9.99},{"t":180,"f":1000,"v":-9.97},{"t":180,"f":1500,"v":-9.93},{"t":180,"f":2000,"v":-9.9},{"t":180,"f":3000,"v":-9.86},{"t":180,"f":4000,"v":-9.83},{"t":180,"f":5000,"v":-9.8},{"t":180,"f":6000,"v":-9.78},{"t":180,"f":7000,"v":-9.77},{"t":180,"f":8000,"v":-9.75},{"t":180,"f":9000,"v":-9.74},{"t":180,"f":10000,"v":-9.73},{"t":180,"f":15000,"v":-9.69},{"t":180,"f":20000,"v":-9.65},{"t":180,"f":30000,"v":-9.61},{"t":180,"f":40000,"v":-9.58},{"t":180,"f":50000,"v":-9.56},{"t":180,"f":60000,"v":-9.54},{"t":180,"f":70000,"v":-9.52},{"t":180,"f":80000,"v":-9.5},{"t":180,"f":90000,"v":-9.49},{"t":180,"f":100000,"v":-9.48},{"t":180,"f":150000,"v":-9.43},{"t":180,"f":200000,"v":-9.39},{"t":180,"f":300000,"v":-9.32},{"t":180,"f":400000,"v":-9.26},{"t":180,"f":500000,"v":-9.21},{"t":180,"f":600000,"v":-9.16},{"t":180,"f":700000,"v":-9.12},{"t":180,"f":800000,"v":-9.09},{"t":180,"f":900000,"v":-9.05},{"t":180,"f":1000000,"v":-9.02},
{"t":195,"f":100,"v":-9.69},{"t":195,"f":200,"v":-9.59},{"t":195,"f":300,"v":-9.53},{"t":195,"f":400,"v":-9.49},{"t":195,"f":500,"v":-9.46},{"t":195,"f":600,"v":-9.43},{"t":195,"f":700,"v":-9.41},{"t":195,"f":800,"v":-9.39},{"t":195,"f":900,"v":-9.38},{"t":195,"f":1000,"v":-9.36},{"t":195,"f":1500,"v":-9.32},{"t":195,"f":2000,"v":-9.3},{"t":195,"f":3000,"v":-9.26},{"t":195,"f":4000,"v":-9.24},{"t":195,"f":5000,"v":-9.22},{"t":195,"f":6000,"v":-9.2},{"t":195,"f":7000,"v":-9.19},{"t":195,"f":8000,"v":-9.18},{"t":195,"f":9000,"v":-9.17},{"t":195,"f":10000,"v":-9.16},{"t":195,"f":15000,"v":-9.12},{"t":195,"f":20000,"v":-9.09},{"t":195,"f":30000,"v":-9.06},{"t":195,"f":40000,"v":-9.03},{"t":195,"f":50000,"v":-9.01},{"t":195,"f":60000,"v":-8.99},{"t":195,"f":70000,"v":-8.97},{"t":195,"f":80000,"v":-8.96},{"t":195,"f":90000,"v":-8.95},{"t":195,"f":100000,"v":-8.94},{"t":195,"f":150000,"v":-8.88},{"t":195,"f":200000,"v":-8.84},{"t":195,"f":300000,"v":-8.79},{"t":195,"f":400000,"v":-8.75},{"t":195,"f":500000,"v":-8.72},{"t":195,"f":600000,"v":-8.69},{"t":195,"f":700000,"v":-8.67},{"t":195,"f":800000,"v":-8.65},{"t":195,"f":900000,"v":-8.63},{"t":195,"f":1000000,"v":-8.62},
{"t":210,"f":100,"v":-9.08},{"t":210,"f":200,"v":-8.98},{"t":210,"f":300,"v":-8.92},{"t":210,"f":400,"v":-8.88},{"t":210,"f":500,"v":-8.84},{"t":210,"f":600,"v":-8.82},{"t":210,"f":700,"v":-8.79},{"t":210,"f":800,"v":-8.77},{"t":210,"f":900,"v":-8.76},{"t":210,"f":1000,"v":-8.74},{"t":210,"f":1500,"v":-8.71},{"t":210,"f":2000,"v":-8.68},{"t":210,"f":3000,"v":-8.65},{"t":210,"f":4000,"v":-8.63},{"t":210,"f":5000,"v":-8.61},{"t":210,"f":6000,"v":-8.59},{"t":210,"f":7000,"v":-8.58},{"t":210,"f":8000,"v":-8.57},{"t":210,"f":9000,"v":-8.56},{"t":210,"f":10000,"v":-8.55},{"t":210,"f":15000,"v":-8.51},{"t":210,"f":20000,"v":-8.48},{"t":210,"f":30000,"v":-8.44},{"t":210,"f":40000,"v":-8.41},{"t":210,"f":50000,"v":-8.38},{"t":210,"f":60000,"v":-8.36},{"t":210,"f":70000,"v":-8.35},{"t":210,"f":80000,"v":-8.33},{"t":210,"f":90000,"v":-8.32},{"t":210,"f":100000,"v":-8.31},{"t":210,"f":150000,"v":-8.26},{"t":210,"f":200000,"v":-8.23},{"t":210,"f":300000,"v":-8.18},{"t":210,"f":400000,"v":-8.14},{"t":210,"f":500000,"v":-8.11},{"t":210,"f":600000,"v":-8.09},{"t":210,"f":700000,"v":-8.07},{"t":210,"f":800000,"v":-8.05},{"t":210,"f":900000,"v":-8.04},{"t":210,"f":1000000,"v":-8.03}
]
},
"concat":[
{
"width":455,"height":338,
"data":{"name":"bfo"},
"encoding":{
"x":{"field":"f","type":"quantitative","scale":{"type":"log","domain":[100,1130000],"nice":false},"axis":{"values":[100,200,300,400,500,600,700,800,900,1000,2000,3000,4000,5000,6000,7000,8000,9000,10000,20000,30000,40000,50000,60000,70000,80000,90000,100000,200000,300000,400000,500000,600000,700000,800000,900000,1000000],"labelExpr":"datum.value == 100 ? '10²' : datum.value == 1000 ? '10³' : datum.value == 10000 ? '10⁴' : datum.value == 100000 ? '10⁵' : datum.value == 1000000 ? '10⁶' : ''","tickSize":{"condition":{"test":"indexof([100,1000,10000,100000,1000000], datum.value) >= 0","value":8},"value":4},"labelFontSize":31,"labelPadding":9,"title":"Frequency f(Hz)","titlePadding":0}},
"y":{"field":"v","type":"quantitative","scale":{"domain":[-18,-5],"nice":false,"zero":false},"axis":{"values":[-18,-17,-16,-15,-14,-13,-12,-11,-10,-9,-8,-7,-6,-5],"labelExpr":"datum.value % 2 == 0 ? '-' + abs(datum.value) : ''","tickSize":{"condition":{"test":"datum.value % 2 == 0","value":8},"value":4},"labelFontSize":28,"labelPadding":5,"title":"ln σa.c.(ω) (Ω − m)⁻¹","titlePadding":17}},
"color":{"field":"t","type":"nominal","scale":{"domain":[30,100,150,165,180,195,210],"range":["#000000","#ff0000","#0000ff","#008080","#ff00ff","#808000","#000080"]},"legend":{"title":null,"orient":"none","legendX":13,"legendY":1.5,"columns":3,"direction":"horizontal","columnPadding":5,"rowPadding":10,"labelExpr":"datum.label + '°C'"}}
},
"layer":[
{"mark":{"type":"line","strokeWidth":1.6},"encoding":{}},
{"transform":[{"filter":"datum.t < 0"}],"mark":{"type":"point","filled":true,"opacity":1},"encoding":{"shape":{"field":"t","type":"nominal","scale":{"domain":[30,100,150,165,180,195,210],"range":["M-3.8,0H3.8M-0.8,-0.8H0.8V0.8H-0.8Z","M-3.8,0H3.8M-0.85,0A0.85,0.85,0,1,0,0.85,0A0.85,0.85,0,1,0,-0.85,0Z","M-3.8,0H3.8M0,-0.95L1,0.75H-1Z","M-3.8,0H3.8M0,0.95L1,-0.75H-1Z","M-3.8,0H3.8M-0.95,0L0.75,-1V1Z","M-3.8,0H3.8M0.95,0L-0.75,-1V1Z","M-3.8,0H3.8M0,-1.05L0.85,0L0,1.05L-0.85,0Z"]},"legend":{"title":null,"orient":"none","legendX":13,"legendY":1.5,"columns":3,"direction":"horizontal","columnPadding":5,"rowPadding":10,"labelExpr":"datum.label + '°C'"}}}},
{"transform":[{"filter":"datum.t == 30"}],"mark":{"type":"point","filled":true,"shape":"square","size":115,"opacity":1},"encoding":{"color":{"value":"#000000"}}},
{"transform":[{"filter":"datum.t == 100"}],"mark":{"type":"point","filled":true,"shape":"circle","size":140,"opacity":1},"encoding":{"color":{"value":"#ff0000"}}},
{"transform":[{"filter":"datum.t == 150"}],"mark":{"type":"point","filled":true,"shape":"triangle-up","size":160,"opacity":1},"encoding":{"color":{"value":"#0000ff"}}},
{"transform":[{"filter":"datum.t == 165"}],"mark":{"type":"point","filled":true,"shape":"triangle-down","size":160,"opacity":1},"encoding":{"color":{"value":"#008080"}}},
{"transform":[{"filter":"datum.t == 180"}],"mark":{"type":"point","filled":true,"shape":"triangle-left","size":160,"opacity":1},"encoding":{"color":{"value":"#ff00ff"}}},
{"transform":[{"filter":"datum.t == 195"}],"mark":{"type":"point","filled":true,"shape":"triangle-right","size":160,"opacity":1},"encoding":{"color":{"value":"#808000"}}},
{"transform":[{"filter":"datum.t == 210"}],"mark":{"type":"point","filled":true,"shape":"diamond","size":150,"opacity":1},"encoding":{"color":{"value":"#000080"}}},
{"data":{"values":[{"s":"BFO","f":164000,"v":-16.38}]},"mark":{"type":"text","font":"Open Sans","fontSize":42,"align":"center","baseline":"alphabetic"},"encoding":{"text":{"field":"s"},"color":{"value":"black"}}}
]
},
{
"width":448,"height":338,
"data":{"name":"b5"},
"encoding":{
"x":{"field":"f","type":"quantitative","scale":{"type":"log","domain":[100,1130000],"nice":false},"axis":{"values":[100,200,300,400,500,600,700,800,900,1000,2000,3000,4000,5000,6000,7000,8000,9000,10000,20000,30000,40000,50000,60000,70000,80000,90000,100000,200000,300000,400000,500000,600000,700000,800000,900000,1000000],"labelExpr":"datum.value == 100 ? '10²' : datum.value == 1000 ? '10³' : datum.value == 10000 ? '10⁴' : datum.value == 100000 ? '10⁵' : datum.value == 1000000 ? '10⁶' : ''","tickSize":{"condition":{"test":"indexof([100,1000,10000,100000,1000000], datum.value) >= 0","value":8},"value":4},"labelFontSize":31,"labelPadding":9,"title":"Frequency f(Hz)","titlePadding":0}},
"y":{"field":"v","type":"quantitative","scale":{"domain":[-19,-3.73],"nice":false,"zero":false},"axis":{"values":[-19,-18,-17,-16,-15,-14,-13,-12,-11,-10,-9,-8,-7,-6,-5,-4],"labelExpr":"datum.value % 2 == 0 ? '-' + abs(datum.value) : ''","tickSize":{"condition":{"test":"datum.value % 2 == 0","value":8},"value":4},"labelFontSize":28,"labelPadding":5,"title":"ln σa.c.(ω) (Ω − m)⁻¹","titlePadding":17}},
"color":{"field":"t","type":"nominal","scale":{"domain":[30,100,150,165,180,195,210],"range":["#000000","#ff0000","#0000ff","#008080","#ff00ff","#808000","#000080"]},"legend":{"title":null,"orient":"none","legendX":22,"legendY":11.5,"columns":3,"direction":"horizontal","columnPadding":0,"rowPadding":9,"labelExpr":"datum.label + '°C'"}}
},
"layer":[
{"mark":{"type":"line","strokeWidth":1.6},"encoding":{}},
{"transform":[{"filter":"datum.t < 0"}],"mark":{"type":"point","filled":true,"opacity":1},"encoding":{"shape":{"field":"t","type":"nominal","scale":{"domain":[30,100,150,165,180,195,210],"range":["M-3.8,0H3.8M-0.8,-0.8H0.8V0.8H-0.8Z","M-3.8,0H3.8M-0.85,0A0.85,0.85,0,1,0,0.85,0A0.85,0.85,0,1,0,-0.85,0Z","M-3.8,0H3.8M0,-0.95L1,0.75H-1Z","M-3.8,0H3.8M0,0.95L1,-0.75H-1Z","M-3.8,0H3.8M-0.95,0L0.75,-1V1Z","M-3.8,0H3.8M0.95,0L-0.75,-1V1Z","M-3.8,0H3.8M0,-1.05L0.85,0L0,1.05L-0.85,0Z"]},"legend":{"title":null,"orient":"none","legendX":22,"legendY":11.5,"columns":3,"direction":"horizontal","columnPadding":0,"rowPadding":9,"labelExpr":"datum.label + '°C'"}}}},
{"transform":[{"filter":"datum.t == 30"}],"mark":{"type":"point","filled":true,"shape":"square","size":115,"opacity":1},"encoding":{"color":{"value":"#000000"}}},
{"transform":[{"filter":"datum.t == 100"}],"mark":{"type":"point","filled":true,"shape":"circle","size":140,"opacity":1},"encoding":{"color":{"value":"#ff0000"}}},
{"transform":[{"filter":"datum.t == 150"}],"mark":{"type":"point","filled":true,"shape":"triangle-up","size":160,"opacity":1},"encoding":{"color":{"value":"#0000ff"}}},
{"transform":[{"filter":"datum.t == 165"}],"mark":{"type":"point","filled":true,"shape":"triangle-down","size":160,"opacity":1},"encoding":{"color":{"value":"#008080"}}},
{"transform":[{"filter":"datum.t == 180"}],"mark":{"type":"point","filled":true,"shape":"triangle-left","size":160,"opacity":1},"encoding":{"color":{"value":"#ff00ff"}}},
{"transform":[{"filter":"datum.t == 195"}],"mark":{"type":"point","filled":true,"shape":"triangle-right","size":160,"opacity":1},"encoding":{"color":{"value":"#808000"}}},
{"transform":[{"filter":"datum.t == 210"}],"mark":{"type":"point","filled":true,"shape":"diamond","size":150,"opacity":1},"encoding":{"color":{"value":"#000080"}}},
{"data":{"values":[{"s":"BSFO5","f":218000,"v":-17.2}]},"mark":{"type":"text","font":"Open Sans","fontSize":42,"align":"center","baseline":"alphabetic"},"encoding":{"text":{"field":"s"},"color":{"value":"black"}}}
]
},
{
"width":455,"height":336,
"data":{"name":"b10"},
"encoding":{
"x":{"field":"f","type":"quantitative","scale":{"type":"log","domain":[100,1130000],"nice":false},"axis":{"values":[100,200,300,400,500,600,700,800,900,1000,2000,3000,4000,5000,6000,7000,8000,9000,10000,20000,30000,40000,50000,60000,70000,80000,90000,100000,200000,300000,400000,500000,600000,700000,800000,900000,1000000],"labelExpr":"datum.value == 100 ? '10²' : datum.value == 1000 ? '10³' : datum.value == 10000 ? '10⁴' : datum.value == 100000 ? '10⁵' : datum.value == 1000000 ? '10⁶' : ''","tickSize":{"condition":{"test":"indexof([100,1000,10000,100000,1000000], datum.value) >= 0","value":8},"value":4},"labelFontSize":31,"labelPadding":9,"title":"Frequency f(Hz)","titlePadding":0}},
"y":{"field":"v","type":"quantitative","scale":{"domain":[-19,-6],"nice":false,"zero":false},"axis":{"values":[-19,-18,-17,-16,-15,-14,-13,-12,-11,-10,-9,-8,-7,-6],"labelExpr":"datum.value % 2 == 0 ? '-' + abs(datum.value) : ''","tickSize":{"condition":{"test":"datum.value % 2 == 0","value":8},"value":4},"labelFontSize":28,"labelPadding":5,"title":"ln σa.c.(ω) (Ω − m)⁻¹","titlePadding":17}},
"color":{"field":"t","type":"nominal","scale":{"domain":[30,100,150,165,180,195,210],"range":["#000000","#ff0000","#0000ff","#008080","#ff00ff","#808000","#000080"]},"legend":{"title":null,"orient":"none","legendX":24,"legendY":5.5,"columns":3,"direction":"horizontal","columnPadding":0,"rowPadding":10,"labelExpr":"datum.label + '°C'"}}
},
"layer":[
{"mark":{"type":"line","strokeWidth":1.6},"encoding":{}},
{"transform":[{"filter":"datum.t < 0"}],"mark":{"type":"point","filled":true,"opacity":1},"encoding":{"shape":{"field":"t","type":"nominal","scale":{"domain":[30,100,150,165,180,195,210],"range":["M-3.8,0H3.8M-0.8,-0.8H0.8V0.8H-0.8Z","M-3.8,0H3.8M-0.85,0A0.85,0.85,0,1,0,0.85,0A0.85,0.85,0,1,0,-0.85,0Z","M-3.8,0H3.8M0,-0.95L1,0.75H-1Z","M-3.8,0H3.8M0,0.95L1,-0.75H-1Z","M-3.8,0H3.8M-0.95,0L0.75,-1V1Z","M-3.8,0H3.8M0.95,0L-0.75,-1V1Z","M-3.8,0H3.8M0,-1.05L0.85,0L0,1.05L-0.85,0Z"]},"legend":{"title":null,"orient":"none","legendX":24,"legendY":5.5,"columns":3,"direction":"horizontal","columnPadding":0,"rowPadding":10,"labelExpr":"datum.label + '°C'"}}}},
{"transform":[{"filter":"datum.t == 30"}],"mark":{"type":"point","filled":true,"shape":"square","size":115,"opacity":1},"encoding":{"color":{"value":"#000000"}}},
{"transform":[{"filter":"datum.t == 100"}],"mark":{"type":"point","filled":true,"shape":"circle","size":140,"opacity":1},"encoding":{"color":{"value":"#ff0000"}}},
{"transform":[{"filter":"datum.t == 150"}],"mark":{"type":"point","filled":true,"shape":"triangle-up","size":160,"opacity":1},"encoding":{"color":{"value":"#0000ff"}}},
{"transform":[{"filter":"datum.t == 165"}],"mark":{"type":"point","filled":true,"shape":"triangle-down","size":160,"opacity":1},"encoding":{"color":{"value":"#008080"}}},
{"transform":[{"filter":"datum.t == 180"}],"mark":{"type":"point","filled":true,"shape":"triangle-left","size":160,"opacity":1},"encoding":{"color":{"value":"#ff00ff"}}},
{"transform":[{"filter":"datum.t == 195"}],"mark":{"type":"point","filled":true,"shape":"triangle-right","size":160,"opacity":1},"encoding":{"color":{"value":"#808000"}}},
{"transform":[{"filter":"datum.t == 210"}],"mark":{"type":"point","filled":true,"shape":"diamond","size":150,"opacity":1},"encoding":{"color":{"value":"#000080"}}},
{"data":{"values":[{"s":"BSFO10","f":133000,"v":-17.91}]},"mark":{"type":"text","font":"Open Sans","fontSize":42,"align":"center","baseline":"alphabetic"},"encoding":{"text":{"field":"s"},"color":{"value":"black"}}}
]
},
{
"width":449,"height":336,
"data":{"name":"b15"},
"encoding":{
"x":{"field":"f","type":"quantitative","scale":{"type":"log","domain":[100,1130000],"nice":false},"axis":{"values":[100,200,300,400,500,600,700,800,900,1000,2000,3000,4000,5000,6000,7000,8000,9000,10000,20000,30000,40000,50000,60000,70000,80000,90000,100000,200000,300000,400000,500000,600000,700000,800000,900000,1000000],"labelExpr":"datum.value == 100 ? '10²' : datum.value == 1000 ? '10³' : datum.value == 10000 ? '10⁴' : datum.value == 100000 ? '10⁵' : datum.value == 1000000 ? '10⁶' : ''","tickSize":{"condition":{"test":"indexof([100,1000,10000,100000,1000000], datum.value) >= 0","value":8},"value":4},"labelFontSize":31,"labelPadding":9,"title":"Frequency f(Hz)","titlePadding":0}},
"y":{"field":"v","type":"quantitative","scale":{"domain":[-19.13,-4.79],"nice":false,"zero":false},"axis":{"values":[-19,-18,-17,-16,-15,-14,-13,-12,-11,-10,-9,-8,-7,-6,-5],"labelExpr":"datum.value % 2 == 0 ? '-' + abs(datum.value) : ''","tickSize":{"condition":{"test":"datum.value % 2 == 0","value":8},"value":4},"labelFontSize":28,"labelPadding":5,"title":"ln σa.c.(ω) (Ω − m)⁻¹","titlePadding":17}},
"color":{"field":"t","type":"nominal","scale":{"domain":[30,100,150,165,180,195,210],"range":["#000000","#ff0000","#0000ff","#008080","#ff00ff","#808000","#000080"]},"legend":{"title":null,"orient":"none","legendX":37,"legendY":8.5,"columns":3,"direction":"horizontal","columnPadding":-2,"rowPadding":9,"labelExpr":"datum.label + '°C'"}}
},
"layer":[
{"mark":{"type":"line","strokeWidth":1.6},"encoding":{}},
{"transform":[{"filter":"datum.t < 0"}],"mark":{"type":"point","filled":true,"opacity":1},"encoding":{"shape":{"field":"t","type":"nominal","scale":{"domain":[30,100,150,165,180,195,210],"range":["M-3.8,0H3.8M-0.8,-0.8H0.8V0.8H-0.8Z","M-3.8,0H3.8M-0.85,0A0.85,0.85,0,1,0,0.85,0A0.85,0.85,0,1,0,-0.85,0Z","M-3.8,0H3.8M0,-0.95L1,0.75H-1Z","M-3.8,0H3.8M0,0.95L1,-0.75H-1Z","M-3.8,0H3.8M-0.95,0L0.75,-1V1Z","M-3.8,0H3.8M0.95,0L-0.75,-1V1Z","M-3.8,0H3.8M0,-1.05L0.85,0L0,1.05L-0.85,0Z"]},"legend":{"title":null,"orient":"none","legendX":37,"legendY":8.5,"columns":3,"direction":"horizontal","columnPadding":-2,"rowPadding":9,"labelExpr":"datum.label + '°C'"}}}},
{"transform":[{"filter":"datum.t == 30"}],"mark":{"type":"point","filled":true,"shape":"square","size":115,"opacity":1},"encoding":{"color":{"value":"#000000"}}},
{"transform":[{"filter":"datum.t == 100"}],"mark":{"type":"point","filled":true,"shape":"circle","size":140,"opacity":1},"encoding":{"color":{"value":"#ff0000"}}},
{"transform":[{"filter":"datum.t == 150"}],"mark":{"type":"point","filled":true,"shape":"triangle-up","size":160,"opacity":1},"encoding":{"color":{"value":"#0000ff"}}},
{"transform":[{"filter":"datum.t == 165"}],"mark":{"type":"point","filled":true,"shape":"triangle-down","size":160,"opacity":1},"encoding":{"color":{"value":"#008080"}}},
{"transform":[{"filter":"datum.t == 180"}],"mark":{"type":"point","filled":true,"shape":"triangle-left","size":160,"opacity":1},"encoding":{"color":{"value":"#ff00ff"}}},
{"transform":[{"filter":"datum.t == 195"}],"mark":{"type":"point","filled":true,"shape":"triangle-right","size":160,"opacity":1},"encoding":{"color":{"value":"#808000"}}},
{"transform":[{"filter":"datum.t == 210"}],"mark":{"type":"point","filled":true,"shape":"diamond","size":150,"opacity":1},"encoding":{"color":{"value":"#000080"}}},
{"data":{"values":[{"s":"BSFO15","f":214000,"v":-17.98}]},"mark":{"type":"text","font":"Open Sans","fontSize":42,"align":"center","baseline":"alphabetic"},"encoding":{"text":{"field":"s"},"color":{"value":"black"}}}
]
}
]
}
